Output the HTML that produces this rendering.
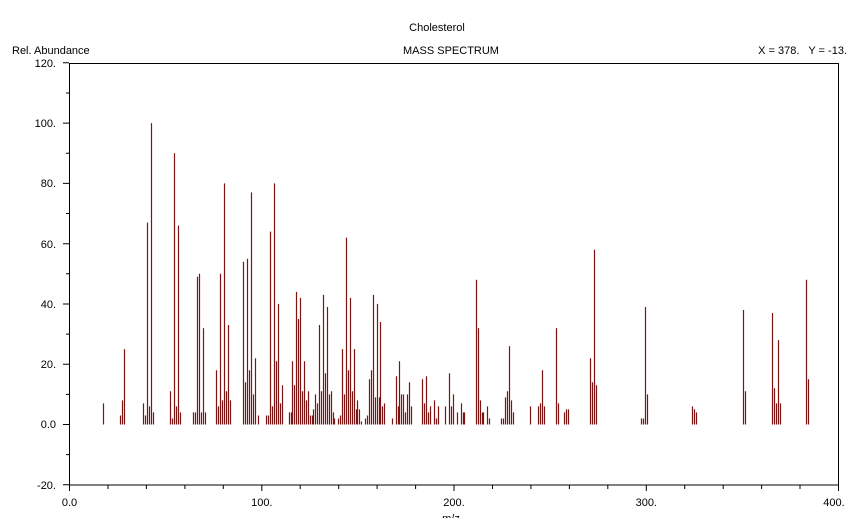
<!DOCTYPE html>
<html><head><meta charset="utf-8"><style>
html,body{margin:0;padding:0;background:#fff;}
svg{display:block;font-family:"Liberation Sans",sans-serif;font-size:11px;}
</style></head><body>
<svg width="857" height="518" xmlns="http://www.w3.org/2000/svg">
<text x="437" y="31" text-anchor="middle">Cholesterol</text>
<text x="12" y="54">Rel. Abundance</text>
<text x="451" y="54" text-anchor="middle">MASS SPECTRUM</text>
<text x="847" y="54" text-anchor="end" style="white-space:pre">X = 378.   Y = -13.</text>
<rect x="69.5" y="63.5" width="769" height="421.5" fill="none" stroke="#000" stroke-width="1"/>
<path stroke="#000" fill="none" d="M63 484.8H69 M66 454.6H69 M63 424.5H69 M66 394.4H69 M63 364.2H69 M66 334.1H69 M63 304H69 M66 273.8H69 M63 243.7H69 M66 213.5H69 M63 183.4H69 M66 153.3H69 M63 123.1H69 M66 93H69 M63 62.8H69
M69.5 485V491 M108 485V489 M146.4 485V489 M184.9 485V489 M223.3 485V489 M261.8 485V491 M300.2 485V489 M338.7 485V489 M377.1 485V489 M415.6 485V489 M454 485V491 M492.5 485V489 M530.9 485V489 M569.4 485V489 M607.8 485V489 M646.3 485V491 M684.7 485V489 M723.2 485V489 M761.6 485V489 M800 485V489 M838.5 485V491"/>
<g text-anchor="end">
<text x="56" y="489">-20.</text><text x="56" y="428">0.0</text><text x="56" y="368">20.</text><text x="56" y="308">40.</text><text x="56" y="248">60.</text><text x="56" y="187">80.</text><text x="56" y="127">100.</text><text x="56" y="67">120.</text>
</g>
<g text-anchor="middle">
<text x="69.5" y="506">0.0</text><text x="261.8" y="506">100.</text><text x="454" y="506">200.</text><text x="646.3" y="506">300.</text><text x="834" y="506">400.</text>
</g>
<path stroke="#7d1414" stroke-width="1.2" fill="none" d="
M103.5 424.5v-21.1 M120.5 424.5v-9 M122.5 424.5v-24.1 M124.5 424.5v-75.4
M143.5 424.5v-21.1 M145.5 424.5v-9 M147.5 424.5v-201.9 M149.5 424.5v-18.1 M151.5 424.5v-301.4 M153.5 424.5v-12.1
M170.5 424.5v-33.2 M172.5 424.5v-6 M174.5 424.5v-271.3 M176.5 424.5v-18.1 M178.5 424.5v-198.9 M180.5 424.5v-12.1
M193.5 424.5v-12.1 M195.5 424.5v-12.1 M197.5 424.5v-147.7 M199.5 424.5v-150.7 M201.5 424.5v-12.1 M203.5 424.5v-96.4 M205.5 424.5v-12.1
M216.5 424.5v-54.3 M218.5 424.5v-18.1 M220.5 424.5v-150.7 M222.5 424.5v-24.1 M224.5 424.5v-241.1 M226.5 424.5v-33.2 M228.5 424.5v-99.5 M230.5 424.5v-24.1
M243.5 424.5v-162.8 M245.5 424.5v-42.2 M247.5 424.5v-165.8 M249.5 424.5v-54.3 M251.5 424.5v-232.1 M253.5 424.5v-30.1 M255.5 424.5v-66.3 M258.5 424.5v-9
M266.5 424.5v-9 M268.5 424.5v-9 M270.5 424.5v-192.9 M272.5 424.5v-18.1 M274.5 424.5v-241.1 M276.5 424.5v-63.3 M278.5 424.5v-120.6 M280.5 424.5v-21.1 M282.5 424.5v-39.2
M289.5 424.5v-12.1 M291.5 424.5v-12.1 M292.5 424.5v-63.3 M294.5 424.5v-39.2 M296.5 424.5v-132.6 M298.5 424.5v-105.5 M300.5 424.5v-126.6 M302.5 424.5v-33.2 M304.5 424.5v-63.3 M306.5 424.5v-24.1 M308.5 424.5v-33.2 M310.5 424.5v-9 M312.5 424.5v-9 M313.5 424.5v-15.1 M315.5 424.5v-30.1 M317.5 424.5v-21.1 M319.5 424.5v-99.5 M321.5 424.5v-33.2 M323.5 424.5v-129.6 M325.5 424.5v-51.2 M327.5 424.5v-117.5 M329.5 424.5v-30.1 M331.5 424.5v-33.2 M333.5 424.5v-12.1 M334.5 424.5v-6
M338.5 424.5v-6 M340.5 424.5v-9 M342.5 424.5v-75.4 M344.5 424.5v-30.1 M346.5 424.5v-186.9 M348.5 424.5v-54.3 M350.5 424.5v-126.6 M352.5 424.5v-33.2 M354.5 424.5v-75.4 M356.5 424.5v-15.1 M357.5 424.5v-24.1 M359.5 424.5v-15.1 M361.5 424.5v-3
M365.5 424.5v-6 M367.5 424.5v-9 M369.5 424.5v-45.2 M371.5 424.5v-54.3 M373.5 424.5v-129.6 M375.5 424.5v-27.1 M377.5 424.5v-120.6 M379.5 424.5v-27.1 M380.5 424.5v-102.5 M382.5 424.5v-18.1 M384.5 424.5v-21.1
M392.5 424.5v-6 M396.5 424.5v-48.2 M398.5 424.5v-18.1 M399.5 424.5v-63.3 M401.5 424.5v-30.1 M403.5 424.5v-30.1 M405.5 424.5v-12.1 M407.5 424.5v-30.1 M409.5 424.5v-42.2 M411.5 424.5v-18.1
M422.5 424.5v-45.2 M424.5 424.5v-21.1 M426.5 424.5v-48.2 M428.5 424.5v-12.1 M430.5 424.5v-18.1 M434.5 424.5v-24.1 M436.5 424.5v-6 M438.5 424.5v-18.1 M445.5 424.5v-18.1 M449.5 424.5v-51.2 M451.5 424.5v-18.1 M453.5 424.5v-30.1 M457.5 424.5v-12.1 M461.5 424.5v-21.1 M463.5 424.5v-12.1 M464.5 424.5v-12.1
M476.5 424.5v-144.7 M478.5 424.5v-96.4 M480.5 424.5v-24.1 M482.5 424.5v-12.1 M483.5 424.5v-12.1 M487.5 424.5v-18.1 M489.5 424.5v-6
M501.5 424.5v-6 M503.5 424.5v-6 M505.5 424.5v-27.1 M507.5 424.5v-33.2 M509.5 424.5v-78.4 M511.5 424.5v-24.1 M513.5 424.5v-12.1 M530.5 424.5v-18.1
M538.5 424.5v-18.1 M540.5 424.5v-21.1 M542.5 424.5v-54.3 M544.5 424.5v-18.1 M556.5 424.5v-96.4 M558.5 424.5v-21.1 M564.5 424.5v-12.1 M566.5 424.5v-15.1 M568.5 424.5v-15.1
M590.5 424.5v-66.3 M592.5 424.5v-42.2 M594.5 424.5v-174.8 M596.5 424.5v-39.2 M641.5 424.5v-6 M643.5 424.5v-6 M645.5 424.5v-117.5 M647.5 424.5v-30.1
M692.5 424.5v-18.1 M694.5 424.5v-15.1 M696.5 424.5v-12.1 M743.5 424.5v-114.5 M745.5 424.5v-33.2
M772.5 424.5v-111.5 M774.5 424.5v-36.2 M776.5 424.5v-21.1 M778.5 424.5v-84.4 M780.5 424.5v-21.1 M806.5 424.5v-144.7 M808.5 424.5v-45.2"/>
<text x="451" y="522" text-anchor="middle">m/z</text>
</svg>
</body></html>
